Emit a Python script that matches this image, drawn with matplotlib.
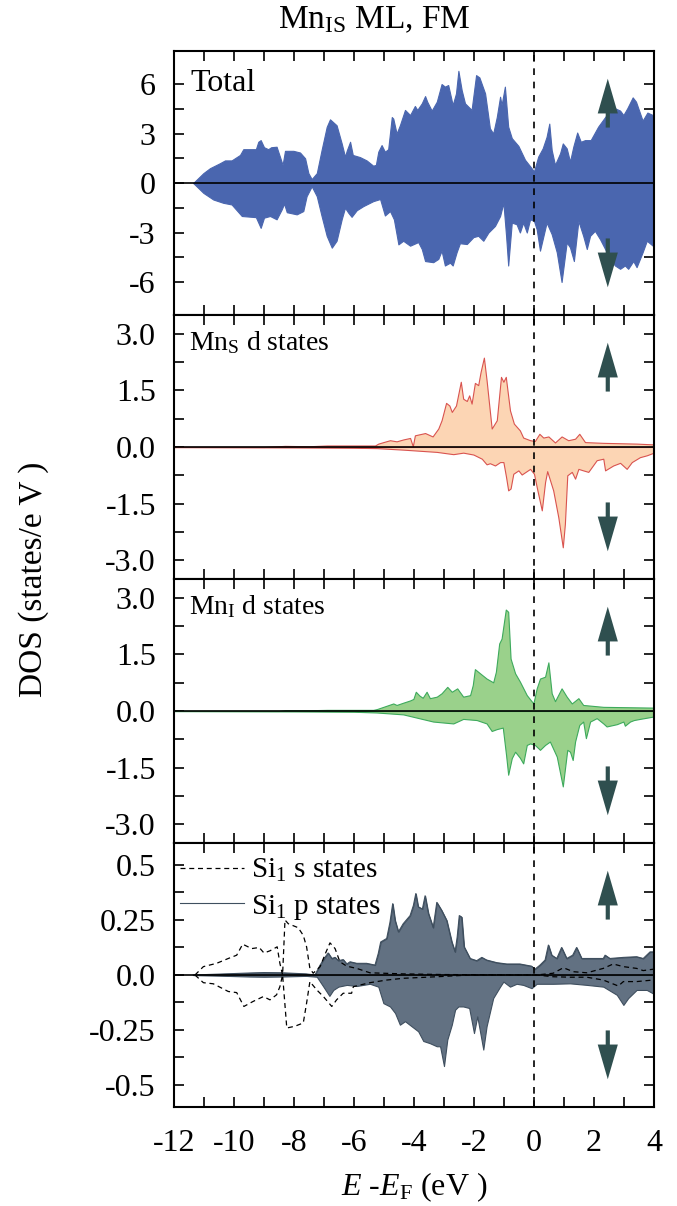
import matplotlib
matplotlib.use('Agg')
import matplotlib.pyplot as plt
import numpy as np

plt.rcParams['font.family'] = ['Liberation Serif', 'DejaVu Serif']
plt.rcParams['mathtext.fontset'] = 'custom'
plt.rcParams['mathtext.rm'] = 'Liberation Serif'
plt.rcParams['mathtext.it'] = 'Liberation Serif:italic'
plt.rcParams['axes.unicode_minus'] = False

# (E - E_F, DOS) pairs
tot_up = [(-11.36, 0), (-11.02, 0.6), (-10.8, 0.9), (-10.47, 1.2), (-10.3, 1.37), (-10.08, 1.37),
          (-9.8, 1.7), (-9.69, 2.05), (-9.27, 2.05), (-9.19, 2.5), (-9.11, 2.6), (-9.0, 2.17),
          (-8.86, 2.05), (-8.76, 2.17), (-8.58, 2.2), (-8.47, 1.6), (-8.38, 1.1), (-8.3, 1.95),
          (-8.02, 1.95), (-7.8, 1.85), (-7.63, 1.5), (-7.52, 0.6), (-7.41, 0.24), (-7.24, 0.6),
          (-7.08, 2.0), (-6.91, 3.4), (-6.8, 3.86), (-6.58, 3.5), (-6.41, 2.4), (-6.3, 1.6),
          (-6.24, 1.97), (-6.13, 2.5), (-6.04, 1.7), (-5.8, 1.57), (-5.58, 1.37), (-5.36, 1.05),
          (-5.27, 1.1), (-5.19, 1.9), (-5.08, 2.3), (-4.97, 1.9), (-4.86, 2.05), (-4.74, 4.0),
          (-4.69, 3.9), (-4.58, 3.0), (-4.47, 3.5), (-4.3, 4.43), (-4.13, 4.12), (-3.97, 4.67),
          (-3.89, 4.43), (-3.74, 4.83), (-3.63, 5.27), (-3.56, 4.93), (-3.41, 4.39), (-3.24, 4.93),
          (-3.08, 6.0), (-2.97, 5.84), (-2.86, 5.94), (-2.71, 4.73), (-2.6, 5.43), (-2.52, 6.8),
          (-2.41, 5.63), (-2.3, 4.83), (-2.08, 4.43), (-1.93, 6.54), (-1.82, 6.4), (-1.63, 5.43),
          (-1.47, 3.32), (-1.36, 3.0), (-1.24, 4.0), (-1.13, 5.23), (-1.08, 4.73), (-0.97, 5.84),
          (-0.86, 3.42), (-0.74, 2.72), (-0.52, 2.25), (-0.3, 1.41), (-0.08, 0.9), (0.0, 0.7),
          (0.14, 1.6), (0.29, 2.1), (0.42, 2.8), (0.51, 3.6), (0.59, 2.0), (0.7, 1.1), (0.87, 1.8),
          (0.96, 2.4), (1.09, 2.1), (1.2, 1.3), (1.31, 2.2), (1.44, 3.06), (1.56, 2.5), (1.7, 2.6),
          (1.89, 2.6), (2.14, 3.42), (2.42, 4.12), (2.7, 4.53), (2.87, 4.39), (2.98, 4.12),
          (3.11, 4.53), (3.29, 5.19), (3.4, 4.93), (3.62, 3.78), (3.78, 4.27), (3.96, 4.12), (4.0, 4.12)]
tot_dn = [(-11.36, 0), (-11.02, -0.6), (-10.69, -1.0), (-10.36, -1.2), (-10.08, -1.3), (-9.74, -2.0),
          (-9.27, -2.07), (-9.11, -2.72), (-9.0, -2.1), (-8.8, -2.0), (-8.58, -2.2), (-8.41, -1.6),
          (-8.33, -1.25), (-8.24, -1.77), (-7.91, -1.9), (-7.69, -1.7), (-7.58, -0.8), (-7.41, -0.2),
          (-7.24, -0.8), (-7.08, -2.0), (-6.91, -3.2), (-6.74, -3.92), (-6.58, -3.5), (-6.41, -2.2),
          (-6.3, -1.5), (-6.19, -1.8), (-6.08, -2.05), (-5.91, -1.65), (-5.69, -1.4), (-5.36, -1.1),
          (-5.13, -0.97), (-4.97, -1.97), (-4.8, -1.7), (-4.67, -2.2), (-4.52, -3.72), (-4.36, -3.5),
          (-4.13, -3.8), (-3.86, -3.58), (-3.74, -4.0), (-3.63, -4.73), (-3.36, -4.8), (-3.19, -4.6),
          (-3.08, -4.1), (-2.97, -5.0), (-2.8, -4.83), (-2.71, -5.0), (-2.58, -4.2), (-2.47, -3.65),
          (-2.24, -3.7), (-2.02, -3.28), (-1.86, -3.2), (-1.69, -3.5), (-1.52, -3.0), (-1.3, -2.6),
          (-1.13, -2.0), (-1.02, -1.2), (-0.93, -3.2), (-0.86, -5.0), (-0.74, -2.4), (-0.58, -2.5),
          (-0.47, -3.0), (-0.36, -2.4), (-0.24, -3.0), (-0.13, -2.2), (0.0, -2.3), (0.09, -2.8),
          (0.2, -4.1), (0.42, -2.4), (0.59, -3.1), (0.76, -4.2), (0.92, -6.0), (1.09, -3.6),
          (1.2, -3.9), (1.33, -4.73), (1.48, -2.3), (1.64, -3.2), (1.76, -4.0), (1.87, -3.2),
          (2.03, -2.9), (2.2, -3.4), (2.37, -4.0), (2.53, -4.6), (2.7, -5.0), (2.87, -5.2),
          (3.03, -5.0), (3.14, -5.2), (3.31, -4.73), (3.42, -5.1), (3.62, -4.2), (3.76, -3.5),
          (3.96, -3.8), (4.0, -3.8)]

mns_up = [(-12.0, 0), (-9.0, 0), (-8.3, 0.03), (-7.5, 0.02), (-6.9, 0.04), (-5.3, 0.04), (-5.19, 0.09),
          (-5.02, 0.13), (-4.8, 0.18), (-4.58, 0.15), (-4.36, 0.2), (-4.13, 0.24), (-4.04, 0.02),
          (-3.97, 0.31), (-3.63, 0.37), (-3.38, 0.28), (-3.19, 0.49), (-3.08, 0.71), (-2.93, 1.17),
          (-2.82, 1.1), (-2.74, 0.93), (-2.6, 1.1), (-2.44, 1.73), (-2.36, 1.28), (-2.24, 1.22),
          (-2.16, 1.37), (-2.08, 1.15), (-1.97, 1.7), (-1.86, 1.64), (-1.78, 1.99), (-1.67, 2.37),
          (-1.58, 1.77), (-1.41, 0.49), (-1.24, 0.71), (-1.1, 1.86), (-1.02, 1.73), (-0.94, 1.86),
          (-0.8, 0.97), (-0.67, 0.62), (-0.47, 0.44), (-0.36, 0.25), (-0.13, 0.18), (0.03, 0.16),
          (0.18, 0.35), (0.31, 0.25), (0.48, 0.28), (0.7, 0.12), (0.92, 0.28), (1.14, 0.18),
          (1.37, 0.22), (1.51, 0.35), (1.7, 0.13), (2.31, 0.11), (3.42, 0.09), (3.96, 0.07), (4.0, 0.07)]
mns_dn = [(-12.0, 0), (-8.0, -0.01), (-6.0, -0.02), (-5.24, -0.03), (-4.36, -0.07), (-3.24, -0.13),
          (-2.69, -0.19), (-2.36, -0.15), (-2.02, -0.2), (-1.74, -0.31), (-1.58, -0.46), (-1.47, -0.43),
          (-1.3, -0.49), (-1.13, -0.4), (-1.02, -0.4), (-0.93, -0.8), (-0.86, -1.15), (-0.78, -1.1),
          (-0.69, -0.71), (-0.52, -0.62), (-0.41, -0.73), (-0.13, -0.58), (0.0, -0.71), (0.09, -1.06),
          (0.26, -1.68), (0.37, -0.93), (0.44, -0.64), (0.64, -1.15), (0.81, -1.86), (0.96, -2.66),
          (1.03, -2.04), (1.11, -0.75), (1.26, -0.66), (1.37, -0.84), (1.48, -0.58), (1.64, -0.62),
          (1.81, -0.66), (2.09, -0.35), (2.31, -0.31), (2.37, -0.62), (2.64, -0.49), (2.87, -0.42),
          (3.09, -0.58), (3.26, -0.4), (3.53, -0.27), (3.76, -0.22), (3.96, -0.16), (4.0, -0.16)]

mni_up = [(-12.0, 0), (-8.5, 0), (-8.3, 0.02), (-7.5, 0.02), (-6.9, 0.03), (-5.36, 0.03), (-5.24, 0.05),
          (-4.91, 0.14), (-4.69, 0.2), (-4.58, 0.16), (-4.36, 0.22), (-4.13, 0.28), (-4.02, 0.32),
          (-3.94, 0.51), (-3.82, 0.41), (-3.71, 0.35), (-3.58, 0.51), (-3.47, 0.34), (-3.24, 0.38),
          (-3.08, 0.47), (-2.89, 0.64), (-2.74, 0.51), (-2.56, 0.6), (-2.36, 0.38), (-2.13, 0.42),
          (-2.04, 0.69), (-1.97, 1.11), (-1.8, 1.0), (-1.58, 0.86), (-1.36, 0.76), (-1.27, 1.04),
          (-1.16, 1.79), (-1.08, 1.92), (-0.94, 2.69), (-0.86, 2.63), (-0.78, 1.39), (-0.63, 1.0),
          (-0.47, 0.78), (-0.24, 0.42), (-0.02, 0.2), (0.09, 0.6), (0.2, 0.86), (0.37, 0.91),
          (0.48, 1.29), (0.59, 0.47), (0.7, 0.26), (0.92, 0.6), (1.09, 0.38), (1.26, 0.2), (1.48, 0.34),
          (1.64, 0.16), (2.31, 0.11), (3.96, 0.09), (4.0, 0.09)]
mni_dn = [(-12.0, 0), (-8.0, -0.01), (-6.0, -0.02), (-5.24, -0.04), (-4.36, -0.09), (-3.36, -0.28),
          (-2.69, -0.33), (-2.36, -0.21), (-1.91, -0.24), (-1.58, -0.33), (-1.41, -0.53), (-1.24, -0.48),
          (-1.04, -0.44), (-0.93, -1.17), (-0.86, -1.69), (-0.74, -1.25), (-0.63, -1.08), (-0.47, -1.24),
          (-0.36, -1.39), (-0.24, -0.9), (-0.13, -0.86), (0.03, -0.9), (0.2, -1.03), (0.37, -0.9),
          (0.53, -0.81), (0.76, -1.21), (0.96, -2.0), (1.11, -1.03), (1.2, -1.08), (1.29, -1.3),
          (1.37, -0.81), (1.51, -0.37), (1.64, -0.28), (1.73, -0.72), (1.87, -0.28), (2.09, -0.19),
          (2.31, -0.33), (2.42, -0.41), (2.76, -0.35), (2.98, -0.28), (3.03, -0.39), (3.2, -0.28),
          (3.33, -0.24), (3.53, -0.21), (3.96, -0.15), (4.0, -0.15)]

sip_up = [(-11.36, 0), (-10.5, 0.004), (-9.5, 0.009), (-9.0, 0.011), (-8.4, 0.01), (-7.6, 0.005),
          (-7.3, 0), (-7.13, 0.045), (-6.97, 0.08), (-6.86, 0.1), (-6.74, 0.075), (-6.63, 0.08),
          (-6.52, 0.065), (-6.36, 0.07), (-6.24, 0.05), (-6.13, 0.06), (-5.91, 0.053), (-5.58, 0.053),
          (-5.3, 0.045), (-5.19, 0.098), (-5.11, 0.15), (-4.91, 0.166), (-4.8, 0.24), (-4.71, 0.324),
          (-4.63, 0.248), (-4.52, 0.196), (-4.36, 0.233), (-4.13, 0.27), (-4.02, 0.316), (-3.94, 0.37),
          (-3.86, 0.31), (-3.72, 0.3), (-3.63, 0.36), (-3.52, 0.28), (-3.36, 0.215), (-3.24, 0.33),
          (-3.08, 0.294), (-2.91, 0.248), (-2.74, 0.15), (-2.63, 0.105), (-2.56, 0.173), (-2.49, 0.27),
          (-2.41, 0.263), (-2.33, 0.128), (-2.13, 0.075), (-1.91, 0.065), (-1.74, 0.08), (-1.58, 0.068),
          (-1.24, 0.056), (-0.91, 0.05), (-0.47, 0.05), (-0.08, 0.04), (0.03, 0.026), (0.2, 0.045),
          (0.37, 0.068), (0.48, 0.136), (0.59, 0.09), (0.76, 0.075), (0.92, 0.125), (1.09, 0.075),
          (1.29, 0.09), (1.42, 0.125), (1.59, 0.075), (1.87, 0.075), (2.31, 0.075), (2.37, 0.09),
          (2.53, 0.075), (2.98, 0.08), (3.42, 0.083), (3.64, 0.075), (3.87, 0.105), (4.0, 0.105)]
sip_dn = [(-11.36, 0), (-10.5, -0.003), (-9.5, -0.007), (-9.0, -0.008), (-8.4, -0.007), (-7.6, -0.004),
          (-7.24, -0.008), (-7.02, -0.053), (-6.82, -0.095), (-6.69, -0.068), (-6.52, -0.053),
          (-6.24, -0.045), (-5.91, -0.05), (-5.47, -0.04), (-5.19, -0.053), (-5.02, -0.128),
          (-4.8, -0.143), (-4.63, -0.173), (-4.47, -0.226), (-4.3, -0.21), (-4.08, -0.233),
          (-3.86, -0.256), (-3.69, -0.3), (-3.47, -0.31), (-3.24, -0.324), (-3.13, -0.324),
          (-3.0, -0.414), (-2.89, -0.294), (-2.74, -0.226), (-2.63, -0.158), (-2.52, -0.143),
          (-2.36, -0.143), (-2.16, -0.15), (-2.0, -0.264), (-1.89, -0.188), (-1.69, -0.339),
          (-1.58, -0.233), (-1.36, -0.105), (-1.13, -0.053), (-1.02, -0.03), (-0.8, -0.053),
          (-0.58, -0.04), (-0.36, -0.045), (-0.08, -0.06), (0.09, -0.04), (0.64, -0.04), (1.2, -0.038),
          (1.76, -0.045), (2.31, -0.053), (2.76, -0.09), (2.98, -0.136), (3.14, -0.105), (3.42, -0.068),
          (3.76, -0.068), (3.96, -0.083), (4.0, -0.083)]

sis_up = [(-11.3, 0), (-11.02, 0.038), (-10.58, 0.053), (-10.19, 0.075), (-9.91, 0.09), (-9.71, 0.14),
          (-9.41, 0.12), (-9.16, 0.125), (-9.0, 0.1), (-8.8, 0.11), (-8.56, 0.128), (-8.47, 0.053),
          (-8.38, 0), (-8.3, 0.25), (-8.19, 0.233), (-7.86, 0.215), (-7.69, 0.18), (-7.58, 0.128),
          (-7.47, 0.03), (-7.36, 0.008), (-7.13, 0.038), (-6.93, 0.105), (-6.8, 0.146), (-6.63, 0.12),
          (-6.47, 0.06), (-6.24, 0.04), (-5.91, 0.03), (-5.47, 0.01), (-4.36, 0.005), (-3.0, 0.002),
          (0.09, 0), (0.64, 0.008), (0.98, 0.033), (1.31, 0.015), (1.76, 0.01), (2.31, 0.03),
          (2.64, 0.05), (2.98, 0.038), (3.42, 0.03), (3.64, 0.02), (3.96, 0.026), (4.0, 0.026)]
sis_dn = [(-11.3, 0), (-11.02, -0.035), (-10.69, -0.04), (-10.19, -0.075), (-9.91, -0.08), (-9.67, -0.143),
          (-9.36, -0.12), (-9.02, -0.098), (-8.8, -0.113), (-8.58, -0.09), (-8.47, -0.053), (-8.38, 0),
          (-8.24, -0.241), (-7.97, -0.233), (-7.69, -0.218), (-7.58, -0.128), (-7.47, -0.03),
          (-7.24, -0.068), (-7.02, -0.098), (-6.74, -0.143), (-6.58, -0.113), (-6.36, -0.083),
          (-6.08, -0.083), (-6.02, -0.053), (-5.47, -0.035), (-4.91, -0.023), (-4.36, -0.015),
          (-3.24, -0.008), (-2.13, 0), (0.09, 0), (0.64, -0.008), (1.2, -0.01), (1.76, -0.01),
          (2.31, -0.023), (2.81, -0.05), (2.98, -0.03), (3.42, -0.03), (3.96, -0.023), (4.0, -0.023)]

panel_names = ['Total', r'Mn$_{\rm S}$ d states', r'Mn$_{\rm I}$ d states', None]
ylims = [8, 3.5, 3.5, 0.6]
major_ticks = [[6, 3, 0, -3, -6], [3, 1.5, 0, -1.5, -3], [3, 1.5, 0, -1.5, -3], [0.5, 0.25, 0, -0.25, -0.5]]
tick_labels = [['6', '3', '0', '-3', '-6'], ['3.0', '1.5', '0.0', '-1.5', '-3.0'],
               ['3.0', '1.5', '0.0', '-1.5', '-3.0'], ['0.5', '0.25', '0.0', '-0.25', '-0.5']]
minor_ticks = [[4.5, 1.5, -1.5, -4.5], [2.25, 0.75, -0.75, -2.25], [2.25, 0.75, -0.75, -2.25],
               [0.375, 0.125, -0.125, -0.375]]
xticks = [-12, -10, -8, -6, -4, -2, 0, 2, 4]
arrow_color = '#2F4F4F'
arrow_style = 'simple,head_length=2.5,head_width=1.45,tail_width=0.3'


def xy(pairs):
    a = np.array(pairs, dtype=float)
    return a[:, 0], a[:, 1]


fig, axes = plt.subplots(4, 1, figsize=(6.77, 12.06), dpi=100, sharex=True)
fig.subplots_adjust(left=0.257, right=0.966, top=0.9577, bottom=0.0821, hspace=0)

series = [
    (tot_up, tot_dn, '#4A66AF', '#4A66AF'),
    (mns_up, mns_dn, '#FCD5B4', '#D9534F'),
    (mni_up, mni_dn, '#9AD18B', '#3DAA5C'),
    (sip_up, sip_dn, '#627182', '#3F4F5F'),
]

for i, ax in enumerate(axes):
    up, dn, fc, ec = series[i]
    for pairs in (up, dn):
        x, y = xy(pairs)
        ax.fill_between(x, 0, y, facecolor=fc, edgecolor=ec, lw=0.8, zorder=2)
    if i == 3:
        x, y = xy(sis_up)
        ax.plot(x, y, color='k', ls=(0, (4, 3)), lw=0.9, zorder=3, label=r'Si$_1$ s states')
        x, y = xy(sis_dn)
        ax.plot(x, y, color='k', ls=(0, (4, 3)), lw=0.9, zorder=3)
        x, y = xy(sip_up)
        ax.plot(x, y, color=ec, lw=0.8, zorder=2, label=r'Si$_1$ p states')
        ax.legend(loc='upper left', bbox_to_anchor=(0.0, 0.97), frameon=False, fontsize=21,
                  handlelength=2.2, handletextpad=0.25, labelspacing=0.3,
                  borderpad=0.1, borderaxespad=0.1)
    ax.axhline(0, color='k', lw=1.2, zorder=4)
    ax.axvline(0, color='k', lw=1.2, ls=(0, (4, 4)), zorder=4)

    ax.set_xlim(-12, 4)
    ax.set_ylim(-ylims[i], ylims[i])
    ax.set_yticks(major_ticks[i])
    ax.set_yticklabels(tick_labels[i])
    ax.set_yticks(minor_ticks[i], minor=True)
    ax.set_xticks(xticks)
    ax.set_xticks([-11, -9, -7, -5, -3, -1, 1, 3], minor=True)
    ax.tick_params(which='both', direction='in', top=True, right=True, length=7.5, width=1.2,
                   labelsize=23)
    ax.tick_params(axis='y', pad=13)
    ax.tick_params(axis='x', pad=16)
    for s in ax.spines.values():
        s.set_linewidth(1.5)

    if panel_names[i]:
        fs = 23 if i == 0 else 20
        ax.text(0.035 if i == 0 else 0.031, 0.848 if i == 0 else 0.867, panel_names[i],
                transform=ax.transAxes, fontsize=fs, va='baseline', ha='left')

    # spin up / spin down arrows
    ax.annotate('', xy=(2.46, 0.895), xytext=(2.46, 0.71), xycoords=('data', 'axes fraction'),
                arrowprops=dict(arrowstyle=arrow_style, fc=arrow_color, ec='none',
                                mutation_scale=10, shrinkA=0, shrinkB=0), zorder=5)
    ax.annotate('', xy=(2.46, 0.105), xytext=(2.46, 0.29), xycoords=('data', 'axes fraction'),
                arrowprops=dict(arrowstyle=arrow_style, fc=arrow_color, ec='none',
                                mutation_scale=10, shrinkA=0, shrinkB=0), zorder=5)

axes[3].set_xlabel(r'$E$ -$E_{\rm F}$ (eV )', fontsize=23, labelpad=9)
fig.text(0.553, 0.977, r'Mn$_{\rm IS}$ ML, FM', fontsize=24, ha='center', va='baseline')
fig.text(0.05, 0.52, 'DOS (states/e V )', fontsize=24, rotation=90, ha='center', va='center')

plt.savefig('out.png', dpi=100)
